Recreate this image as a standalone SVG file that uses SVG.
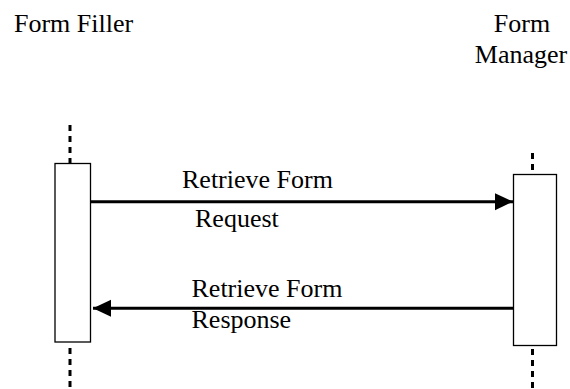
<svg xmlns="http://www.w3.org/2000/svg" width="570" height="389" viewBox="0 0 570 389">
<style>
text{font-family:"Liberation Serif","Times New Roman",serif;font-size:26px;fill:#000}
.life{stroke:#000;stroke-width:3;stroke-dasharray:6,5;fill:none}
.act{fill:#fff;stroke:#000;stroke-width:1.3}
.msg{stroke:#000;stroke-width:3;fill:none}
</style>
<defs>
<marker id="ah" markerUnits="userSpaceOnUse" markerWidth="18" markerHeight="18" viewBox="0 0 17 16" refX="17" refY="8" orient="auto">
<path d="M0,0 L17,8 L0,16 Z" fill="#000"/>
</marker>
</defs>
<rect width="570" height="389" fill="#fff"/>
<g id="form-filler">
<text x="14" y="32">Form Filler</text>
<line class="life" x1="70" y1="125" x2="70" y2="163"/>
<rect class="act" x="55" y="163.5" width="35.5" height="178.5"/>
<line class="life" x1="70" y1="348" x2="70" y2="389"/>
</g>
<g id="form-manager">
<text x="522" y="32" text-anchor="middle">Form</text>
<text x="521" y="63" text-anchor="middle">Manager</text>
<line class="life" x1="532.5" y1="153" x2="532.5" y2="174"/>
<rect class="act" x="513.5" y="174.5" width="43" height="171"/>
<line class="life" x1="532.5" y1="349" x2="532.5" y2="389"/>
</g>
<g id="connectors">
<line class="msg" x1="91" y1="201.7" x2="513" y2="201.7" marker-end="url(#ah)"/>
<line class="msg" x1="513" y1="308.3" x2="93" y2="308.3" marker-end="url(#ah)"/>
<text x="182" y="188">Retrieve Form</text>
<text x="195" y="227">Request</text>
<text x="191.5" y="297">Retrieve Form</text>
<text x="191.5" y="327.5">Response</text>
</g>
</svg>
